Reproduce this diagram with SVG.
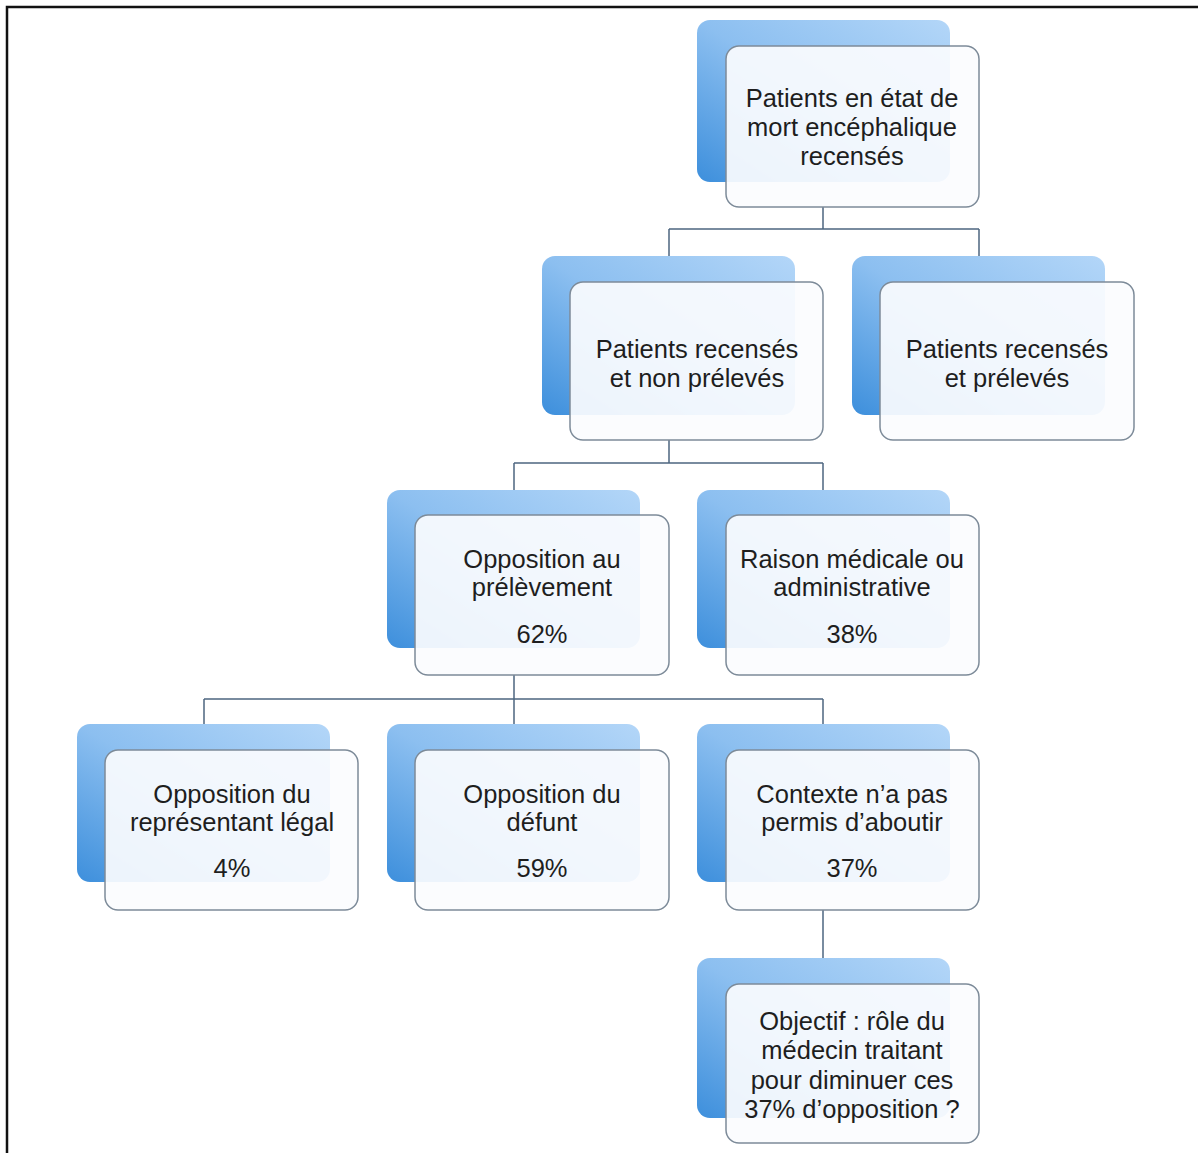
<svg xmlns="http://www.w3.org/2000/svg" width="1198" height="1153" viewBox="0 0 1198 1153">
<defs>
<linearGradient id="blue" x1="1" y1="0" x2="0" y2="1">
<stop offset="0" stop-color="#b3d6f8"/>
<stop offset="0.5" stop-color="#8cbff0"/>
<stop offset="1" stop-color="#3d8fdc"/>
</linearGradient>
<style>
.back{fill:url(#blue);}
.front{fill:#fbfcfe;fill-opacity:0.92;stroke:#7d8b99;stroke-width:1.5;}
.lbl{font-family:"Liberation Sans",Arial,sans-serif;font-size:25.5px;fill:#1e1e1e;text-anchor:middle;}
.conn{stroke:#4d6680;stroke-width:1.5;fill:none;}
</style>
</defs>
<rect width="1198" height="1153" fill="#ffffff"/>
<path d="M7 1153 V7 H1198" fill="none" stroke="#111" stroke-width="2.5"/>
<g id="connectors">
<path class="conn" d="M823 207 V229 M669 229 H979 M669 229 V283 M979 229 V283"/>
<path class="conn" d="M669 440 V463 M514 463 H823 M514 463 V516 M823 463 V516"/>
<path class="conn" d="M514 675 V699 M204 699 H823 M204 699 V751 M514 699 V751 M823 699 V751"/>
<path class="conn" d="M823 910 V985"/>
</g>
<g id="n1">
<rect class="back" x="697" y="20" width="253" height="162" rx="13"/>
<rect class="front" x="726" y="46" width="253" height="161" rx="13"/>
<text class="lbl" x="852" y="107">Patients en état de</text>
<text class="lbl" x="852" y="136">mort encéphalique</text>
<text class="lbl" x="852" y="165">recensés</text>
</g>
<g id="n2">
<rect class="back" x="542" y="256" width="253" height="159" rx="13"/>
<rect class="front" x="570" y="282" width="253" height="158" rx="13"/>
<text class="lbl" x="697" y="358">Patients recensés</text>
<text class="lbl" x="697" y="387">et non prélevés</text>
</g>
<g id="n3">
<rect class="back" x="852" y="256" width="253" height="159" rx="13"/>
<rect class="front" x="880" y="282" width="254" height="158" rx="13"/>
<text class="lbl" x="1007" y="358">Patients recensés</text>
<text class="lbl" x="1007" y="387">et prélevés</text>
</g>
<g id="n4">
<rect class="back" x="387" y="490" width="253" height="158" rx="13"/>
<rect class="front" x="415" y="515" width="254" height="160" rx="13"/>
<text class="lbl" x="542" y="568">Opposition au</text>
<text class="lbl" x="542" y="596">prélèvement</text>
<text class="lbl" x="542" y="643">62%</text>
</g>
<g id="n5">
<rect class="back" x="697" y="490" width="253" height="158" rx="13"/>
<rect class="front" x="726" y="515" width="253" height="160" rx="13"/>
<text class="lbl" x="852" y="568">Raison médicale ou</text>
<text class="lbl" x="852" y="596">administrative</text>
<text class="lbl" x="852" y="643">38%</text>
</g>
<g id="n6">
<rect class="back" x="77" y="724" width="253" height="158" rx="13"/>
<rect class="front" x="105" y="750" width="253" height="160" rx="13"/>
<text class="lbl" x="232" y="803">Opposition du</text>
<text class="lbl" x="232" y="831">représentant légal</text>
<text class="lbl" x="232" y="877">4%</text>
</g>
<g id="n7">
<rect class="back" x="387" y="724" width="253" height="158" rx="13"/>
<rect class="front" x="415" y="750" width="254" height="160" rx="13"/>
<text class="lbl" x="542" y="803">Opposition du</text>
<text class="lbl" x="542" y="831">défunt</text>
<text class="lbl" x="542" y="877">59%</text>
</g>
<g id="n8">
<rect class="back" x="697" y="724" width="253" height="158" rx="13"/>
<rect class="front" x="726" y="750" width="253" height="160" rx="13"/>
<text class="lbl" x="852" y="803">Contexte n’a pas</text>
<text class="lbl" x="852" y="831">permis d’aboutir</text>
<text class="lbl" x="852" y="877">37%</text>
</g>
<g id="n9">
<rect class="back" x="697" y="958" width="253" height="160" rx="13"/>
<rect class="front" x="726" y="984" width="253" height="159" rx="13"/>
<text class="lbl" x="852" y="1030">Objectif : rôle du</text>
<text class="lbl" x="852" y="1059">médecin traitant</text>
<text class="lbl" x="852" y="1089">pour diminuer ces</text>
<text class="lbl" x="852" y="1118">37% d’opposition ?</text>
</g>
</svg>
